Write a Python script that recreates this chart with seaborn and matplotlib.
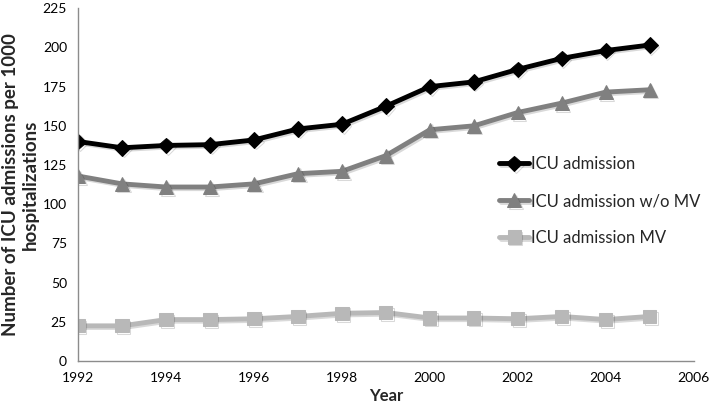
import matplotlib
matplotlib.use("Agg")
import matplotlib.pyplot as plt
import matplotlib.patheffects as pe
import seaborn as sns
import pandas as pd

years = [1992, 1993, 1994, 1995, 1996, 1997, 1998, 1999, 2000, 2001, 2002, 2003, 2004, 2005]
icu_admission = [140, 136, 137.5, 138, 141, 148, 151, 162.5, 175, 178, 186, 193, 198, 201.5]
icu_wo_mv = [118, 113, 111, 111, 113, 119.5, 121, 131, 147.5, 150, 158.5, 164.5, 171.5, 173]
icu_mv = [22.5, 22.5, 26.5, 26.5, 27, 28.5, 30.5, 31, 27.5, 27.5, 27, 28.5, 26.5, 28.5]
series_names = ["ICU admission", "ICU admission w/o MV", "ICU admission MV"]
x_ticks = [1992, 1994, 1996, 1998, 2000, 2002, 2004, 2006]
y_ticks = [0, 25, 50, 75, 100, 125, 150, 175, 200, 225]

sns.set_style("white")
plt.rcParams["font.family"] = ["Lato", "DejaVu Sans"]

fig = plt.figure(figsize=(7.10, 4.09), dpi=100)
ax = fig.add_axes([0.110, 0.117, 0.867, 0.863])

styles = [
    dict(color="#000000", marker="D", markersize=8),
    dict(color="#808080", marker="^", markersize=10),
    dict(color="#b8b8b8", marker="s", markersize=9.5),
]
shadow = [pe.SimpleLineShadow(offset=(1.2, -1.2), shadow_color="#000000", alpha=0.15), pe.Normal()]
for name, vals, st in zip(series_names, [icu_admission, icu_wo_mv, icu_mv], styles):
    df = pd.DataFrame({"Year": years, "Value": vals})
    sns.lineplot(data=df, x="Year", y="Value", ax=ax, color=st["color"], linewidth=3.5,
                 marker=st["marker"], markersize=st["markersize"], markeredgecolor=st["color"],
                 markerfacecolor=st["color"], label=name, path_effects=shadow)

ax.set_xlim(1992, 2006)
ax.set_ylim(0, 225)
ax.set_xticks(x_ticks)
ax.set_yticks(y_ticks)
for s in ["top", "right"]:
    ax.spines[s].set_visible(False)
for s in ["left", "bottom"]:
    ax.spines[s].set_color("#8c8c8c")
    ax.spines[s].set_linewidth(1.0)
ax.tick_params(axis="both", which="major", direction="out", length=5, width=1,
               color="#8c8c8c", labelsize=10, labelcolor="#000000", pad=3)
ax.set_xlabel("Year", fontsize=12, fontweight="bold", labelpad=3)
ax.set_ylabel("Number of ICU admissions per 1000\nhospitalizations", fontsize=13.5,
              fontweight="bold", labelpad=3, linespacing=1.2)
ax.grid(False)

leg = ax.legend(loc="upper left", bbox_to_anchor=(0.703, 0.618), bbox_transform=fig.transFigure,
                frameon=False, fontsize=12, handlelength=1.8, handletextpad=0.1,
                labelspacing=1.25, borderaxespad=0, borderpad=0)
fig.savefig("out.png", dpi=100)
